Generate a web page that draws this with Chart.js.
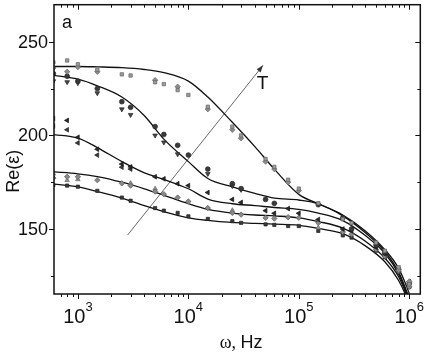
<!DOCTYPE html>
<html>
<head>
<meta charset="utf-8">
<script src="https://cdn.jsdelivr.net/npm/chart.js@4"></script>
<style>
  html, body { margin: 0; padding: 0; background: #fff; }
  #wrap { width: 425px; height: 352px; position: relative; }
</style>
</head>
<body>
<div id="wrap"><canvas id="myChart" width="425" height="352"></canvas></div>
<script>
// measured frequencies (Hz)
const freq = [600, 800, 1000, 1500, 2500, 3000, 5000, 6000, 8000, 1e4, 1.5e4, 2.5e4, 3e4, 5e4, 6e4, 8e4, 1e5, 1.5e5, 2.5e5, 3e5, 5e5, 6e5, 8e5, 1e6]

// Re(eps) points, two runs per temperature (a / b)
const c1a = [239, 240, 238, 235, 232.6, 232, 228.4, 227.4, 224.2, 221.6, 215.3, 204.7, 200, 187.4, 183.2, 176.3, 171.6, 163.8, 155.3, 153.2, 142.8, 138.4, 129.6, 120.5]
const c1b = [236, 234, 236.5, 234, null, null, 229.5, null, 226, null, 214, 203, 198.5, 186, 182, 175, 170.5, null, null, null, null, null, 128, 122]
const c2a = [233, 231.6, 229, 225, 218, 215, 204.7, 200.5, 194.7, 189.5, 182, 174.2, 171.6, 165.8, 163.7, null, null, 163, 156, 150, 141.5, 137.5, 128.5, 121]
const c2b = [229, 228.5, 228, 222.6, 214, 211, 200, 196.3, 190, null, 179.5, 173, 171, null, null, null, null, null, null, null, null, null, null, null]
const c3a = [209, 208, 199, 192.6, 184.7, 183.2, 177.9, 176.8, 174.2, 173.2, 169.5, 165.8, 164.2, 159.8, 158.4, 160.9, 158.4, 155.1, 150, 149, 140.2, 136.7, 128.2, 121.8]
const c3b = [205, 203, 196, 189.5, 183, 182, null, null, null, null, null, null, null, null, null, null, null, null, null, null, null, null, null, null]
const c4a = [177.2, 177.9, 177.9, 176.1, 174.4, 173.2, 170, 168.6, 166.8, 164.7, 161.2, 158.6, 157.7, 156, 155.6, 156.3, 156, 153.3, 148.4, 147.2, 139, 135.5, 127.5, 119.1]
const c4b = [179.5, 176, 176.5, null, null, 174.5, 171.5, null, null, null, null, 160, null, null, null, null, null, 150.7, null, null, null, null, null, null]
const c5a = [173.5, 173.2, 172.6, 170.4, 166.8, 165.1, 161.2, 159.8, 158.6, 156.8, 155.4, 154.2, 153.3, 152.5, 152.2, 151.6, 151.6, 149, 146.6, 145.4, 138.4, 134.9, 127, 119]

// fitted curves
const fitFreq = [600, 1000, 1500, 2500, 4000, 6000, 1e4, 1.5e4, 2.5e4, 4e4, 6e4, 1e5, 1.5e5, 2.5e5, 4e5, 6e5, 8e5, 1e6, 1.1e6]
const fit1 = [236.8, 236.8, 236.6, 236.2, 235.2, 233.5, 229, 220.5, 207, 194, 182, 168.5, 163.5, 157.5, 149, 139, 129, 115.5, 108]
const fit2 = [232.1, 230, 226.5, 220.5, 210.5, 198, 186, 177, 172.5, 169, 166.5, 165.5, 163.5, 157, 148, 138, 127, 113, 106]
const fit3 = [200.5, 198.5, 193.5, 186, 180, 176.5, 171.5, 166, 163.5, 162.5, 161.5, 160.5, 158.5, 154.5, 146.5, 137, 126, 112, 105]
const fit4 = [180.5, 179.5, 178, 175, 171.5, 168, 163.5, 160.5, 158.5, 157.5, 157, 156, 154, 150.5, 143.5, 134.5, 124.5, 111, 104]
const fit5 = [174, 172.5, 170, 166.5, 162.5, 159.3, 156, 154.6, 153.5, 153, 152.6, 152, 150.3, 147.5, 141, 132.5, 122.5, 110, 103]

// temperature arrow
const arrowX = [2820, 47400]
const arrowY = [146.8, 237.4]

const yMajor = [150, 200, 250]
const yMinor = [125, 175, 225]
const xMajor = [1e3, 1e4, 1e5, 1e6]
const xExp = ['3', '4', '5', '6']

function pts(xs, ys) {
    return xs.map((x, i) => ({ x: x, y: ys[i] })).filter(p => p.y != null)
}

function fitSet(ys) {
    return {
        type: 'line', data: pts(fitFreq, ys), borderColor: '#111', borderWidth: 1.3,
        pointRadius: 0, cubicInterpolationMode: 'monotone', fill: false, order: 2
    }
}

function markSet(ys, style, fillC, lineC, rot, r) {
    return {
        type: 'scatter', data: pts(freq, ys), pointStyle: style, rotation: rot || 0,
        pointRadius: r || 2.4, backgroundColor: fillC, borderColor: lineC, borderWidth: 0.7, order: 1
    }
}

const framePlugin = {
    id: 'frame',
    afterDraw(chart) {
        const ctx = chart.ctx
        const a = chart.chartArea
        const xs = chart.scales.x
        const ys = chart.scales.y
        ctx.save()
        ctx.strokeStyle = '#111'
        ctx.lineWidth = 1.5
        ctx.strokeRect(a.left, a.top, a.right - a.left, a.bottom - a.top)

        ctx.lineWidth = 1
        ctx.beginPath()
        // y ticks: outward on left, inward on right
        yMajor.concat(yMinor).forEach(v => {
            const len = yMajor.includes(v) ? 5 : 3
            const py = Math.round(ys.getPixelForValue(v)) + 0.5
            ctx.moveTo(a.left - len, py); ctx.lineTo(a.left, py)
            ctx.moveTo(a.right, py); ctx.lineTo(a.right - len, py)
        })
        // x ticks: outward at bottom, inward on top
        for (let d = 2; d <= 6; d++) {
            for (let m = 1; m <= 9; m++) {
                const v = m * Math.pow(10, d)
                if (v < xs.min || v > xs.max) continue
                const len = m === 1 ? 5 : 3
                const px = Math.round(xs.getPixelForValue(v)) + 0.5
                ctx.moveTo(px, a.bottom); ctx.lineTo(px, a.bottom + len)
                ctx.moveTo(px, a.top); ctx.lineTo(px, a.top + len)
            }
        }
        ctx.stroke()

        // tick labels
        ctx.fillStyle = '#111'
        ctx.font = '18px "Liberation Sans", Arial, sans-serif'
        ctx.textAlign = 'right'
        ctx.textBaseline = 'middle'
        yMajor.forEach(v => ctx.fillText(String(v), a.left - 6, ys.getPixelForValue(v) + 1))

        xMajor.forEach((v, i) => {
            const px = xs.getPixelForValue(v)
            ctx.font = '20px "Liberation Sans", Arial, sans-serif'
            const w1 = ctx.measureText('10').width
            ctx.font = '13px "Liberation Sans", Arial, sans-serif'
            const w2 = ctx.measureText(xExp[i]).width
            const left = px - (w1 + w2) / 2
            ctx.textAlign = 'left'
            ctx.textBaseline = 'alphabetic'
            ctx.font = '20px "Liberation Sans", Arial, sans-serif'
            ctx.fillText('10', left, a.bottom + 29)
            ctx.font = '13px "Liberation Sans", Arial, sans-serif'
            ctx.fillText(xExp[i], left + w1, a.bottom + 17)
        })

        // axis titles
        ctx.font = '18px "Liberation Serif", serif'
        ctx.textAlign = 'left'
        const omega = 'ω, '
        const wo = ctx.measureText(omega).width
        ctx.font = '18px "Liberation Sans", Arial, sans-serif'
        const wh = ctx.measureText('Hz').width
        const cx = (a.left + a.right) / 2 + 4
        ctx.font = '18px "Liberation Serif", serif'
        ctx.fillText(omega, cx - (wo + wh) / 2, a.bottom + 54)
        ctx.font = '18px "Liberation Sans", Arial, sans-serif'
        ctx.fillText('Hz', cx - (wo + wh) / 2 + wo, a.bottom + 54)

        ctx.save()
        ctx.translate(14, (a.top + a.bottom) / 2 + 22)
        ctx.rotate(-Math.PI / 2)
        ctx.textAlign = 'center'
        ctx.textBaseline = 'middle'
        ctx.font = '18px "Liberation Sans", Arial, sans-serif'
        ctx.fillText('Re(ε)', 0, 0)
        ctx.restore()

        // panel letter and T
        ctx.textAlign = 'center'
        ctx.textBaseline = 'middle'
        ctx.font = '18px "Liberation Sans", Arial, sans-serif'
        ctx.fillText('a', a.left + 13, a.top + 18)
        ctx.font = '19px "Liberation Sans", Arial, sans-serif'
        ctx.fillText('T', xs.getPixelForValue(47000), ys.getPixelForValue(227.8))

        // arrow head
        const x0 = xs.getPixelForValue(arrowX[0]), y0 = ys.getPixelForValue(arrowY[0])
        const x1 = xs.getPixelForValue(arrowX[1]), y1 = ys.getPixelForValue(arrowY[1])
        const ang = Math.atan2(y1 - y0, x1 - x0)
        ctx.fillStyle = '#333'
        ctx.beginPath()
        ctx.moveTo(x1, y1)
        ctx.lineTo(x1 - 7 * Math.cos(ang) + 2.5 * Math.sin(ang), y1 - 7 * Math.sin(ang) - 2.5 * Math.cos(ang))
        ctx.lineTo(x1 - 7 * Math.cos(ang) - 2.5 * Math.sin(ang), y1 - 7 * Math.sin(ang) + 2.5 * Math.cos(ang))
        ctx.closePath()
        ctx.fill()
        ctx.restore()
    }
}

const ctx = document.getElementById('myChart').getContext('2d')
const myChart = new Chart(ctx, {
    type: 'scatter',
    data: {
        datasets: [
            fitSet(fit1), fitSet(fit2), fitSet(fit3), fitSet(fit4), fitSet(fit5),
            {
                type: 'line', data: pts(arrowX, arrowY), borderColor: '#555', borderWidth: 0.9,
                pointRadius: 0, fill: false, order: 3
            },
            markSet(c1a, 'rect', '#9a9a9a', '#666'),
            markSet(c1b, 'rectRot', '#8c8c8c', '#666', 0, 2.7),
            markSet(c2a, 'circle', '#3a3a3a', '#222'),
            markSet(c2b, 'triangle', '#4a4a4a', '#222', 180, 2.7),
            markSet(c3a, 'triangle', '#2a2a2a', '#111', 270, 2.7),
            markSet(c3b, 'triangle', '#3a3a3a', '#222', 270, 2.7),
            markSet(c4a, 'rectRot', '#8a8a8a', '#555', 0, 2.7),
            markSet(c4b, 'triangle', '#999', '#666', 0, 2.6),
            markSet(c5a, 'rect', '#3a3a3a', '#222', 0, 2.3)
        ]
    },
    options: {
        responsive: false,
        animation: false,
        devicePixelRatio: 1,
        layout: { padding: { left: 54, right: 3, top: 1, bottom: 58 } },
        scales: {
            x: { type: 'logarithmic', min: 608, max: 1.257e6, display: false },
            y: { type: 'linear', min: 115.3, max: 269.8, display: false }
        },
        plugins: {
            legend: { display: false },
            tooltip: { enabled: false }
        }
    },
    plugins: [framePlugin]
})
</script>
</body>
</html>
